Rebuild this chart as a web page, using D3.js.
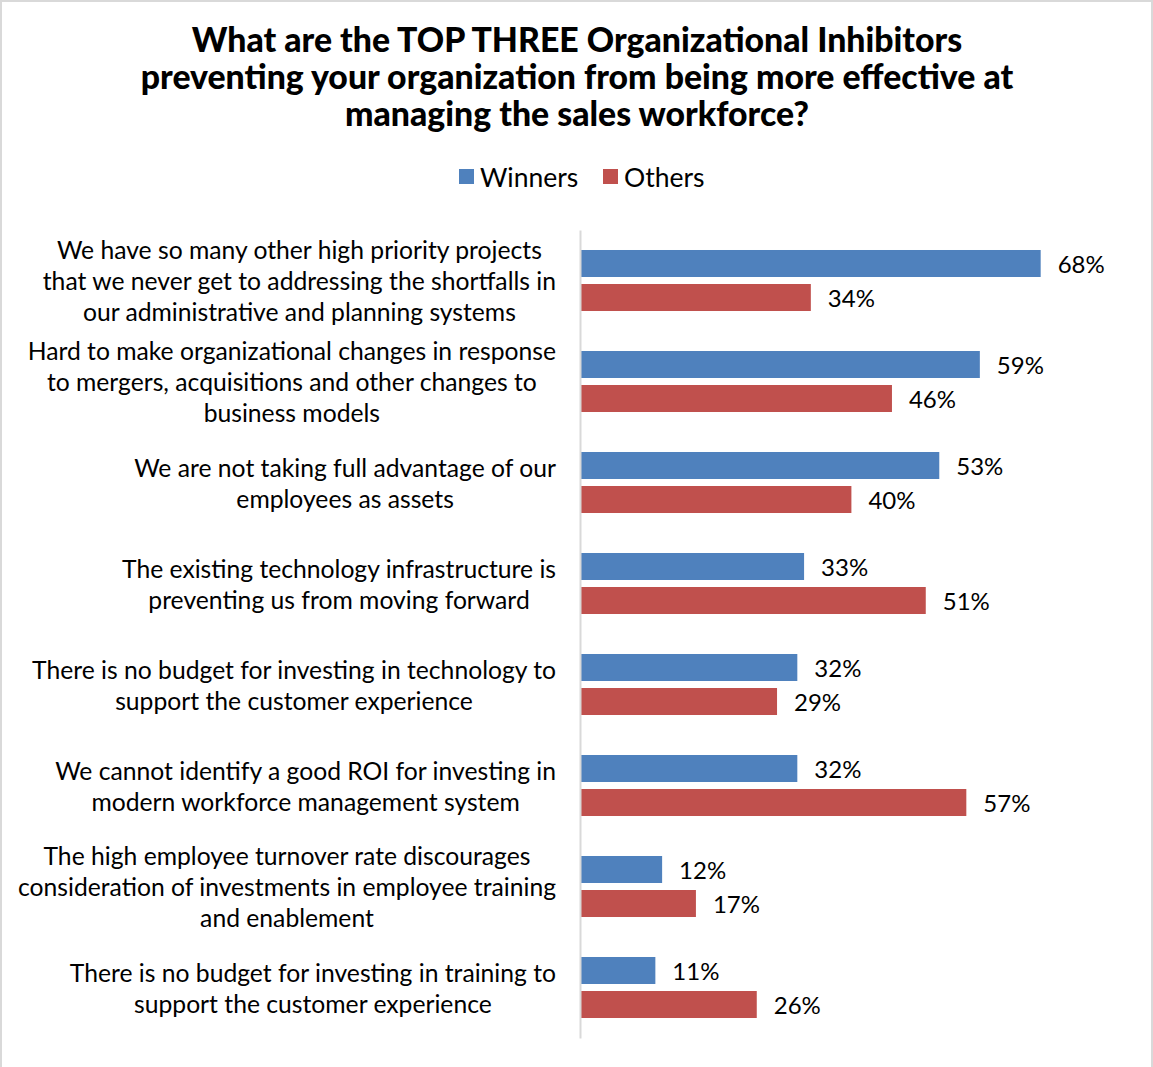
<!DOCTYPE html>
<html>
<head>
<meta charset="utf-8">
<script src="https://cdn.jsdelivr.net/npm/d3@7"></script>
<style>
  html, body { margin: 0; padding: 0; background: #fff; }
  svg { display: block; }
  text { font-family: Lato, "Open Sans", sans-serif; fill: #000; }
</style>
</head>
<body>
<svg id="chart" width="1153" height="1067"></svg>
<script>
// Survey question shown as the chart title
const titleLines = [
  "What are the TOP THREE Organizational Inhibitors",
  "preventing your organization from being more effective at",
  "managing the sales workforce?"
];

// Inhibitor categories (each entry is the wrapped label lines)
const categories = [
  ["We have so many other high priority projects", "that we never get to addressing the shortfalls in", "our administrative and planning systems"],
  ["Hard to make organizational changes in response", "to mergers, acquisitions and other changes to", "business models"],
  ["We are not taking full advantage of our", "employees as assets"],
  ["The existing technology infrastructure is", "preventing us from moving forward"],
  ["There is no budget for investing in technology to", "support the customer experience"],
  ["We cannot identify a good ROI for investing in", "modern workforce management system"],
  ["The high employee turnover rate discourages", "consideration of investments in employee training", "and enablement"],
  ["There is no budget for investing in training to", "support the customer experience"]
];

const seriesNames = ["Winners", "Others"];
const winners = [68, 59, 53, 33, 32, 32, 12, 11];
const others  = [34, 46, 40, 51, 29, 57, 17, 26];
const colors = ["#4F81BD", "#C0504D"];

const svg = d3.select("#chart");
const W = 1153, H = 1067;

// outer frame
svg.append("rect")
  .attr("x", 1).attr("y", 1)
  .attr("width", W - 2).attr("height", H + 10)
  .attr("fill", "none")
  .attr("stroke", "#d9d9d9")
  .attr("stroke-width", 2);

// title
const title = svg.append("text")
  .attr("text-anchor", "middle")
  .style("font-size", "33.8px")
  .style("font-weight", 900);
titleLines.forEach((t, i) => {
  title.append("tspan").attr("x", 577).attr("y", 52 + i * 37).text(t);
});

// legend
const legendItems = [
  { name: seriesNames[0], color: colors[0], x: 459 },
  { name: seriesNames[1], color: colors[1], x: 603 }
];
const legend = svg.append("g");
legendItems.forEach(d => {
  legend.append("rect")
    .attr("x", d.x).attr("y", 169)
    .attr("width", 15).attr("height", 15)
    .attr("fill", d.color);
  legend.append("text")
    .attr("x", d.x + 21).attr("y", 177)
    .attr("dominant-baseline", "central")
    .style("font-size", "26.5px")
    .text(d.name);
});

// scales
const y = d3.scaleBand()
  .domain(d3.range(categories.length))
  .range([230, 1038])
  .paddingInner(0).paddingOuter(0);

const ySub = d3.scaleBand()
  .domain(seriesNames)
  .range([0, y.bandwidth()])
  .paddingInner(0.206)
  .paddingOuter(0.588);

const x = d3.scaleLinear().domain([0, 100]).range([581, 581 + 676]);

const rows = categories.map((c, i) => ({
  idx: i,
  values: [
    { series: seriesNames[0], value: winners[i], color: colors[0] },
    { series: seriesNames[1], value: others[i], color: colors[1] }
  ]
}));

const groups = svg.append("g").selectAll("g")
  .data(rows)
  .join("g")
  .attr("transform", d => `translate(0,${y(d.idx)})`);

groups.selectAll("rect")
  .data(d => d.values)
  .join("rect")
  .attr("x", x(0))
  .attr("y", d => ySub(d.series))
  .attr("width", d => x(d.value) - x(0))
  .attr("height", ySub.bandwidth())
  .attr("fill", d => d.color);

groups.selectAll("text.val")
  .data(d => d.values)
  .join("text")
  .attr("class", "val")
  .attr("x", d => x(d.value) + 17)
  .attr("y", d => ySub(d.series) + ySub.bandwidth() / 2)
  .attr("dominant-baseline", "central")
  .style("font-size", "24px")
  .text(d => d.value + "%");

// vertical category axis line
const axisG = svg.append("g").attr("transform", "translate(580,0)");
axisG.call(d3.axisLeft(y).tickSize(0).tickFormat(""));
axisG.select(".domain").attr("stroke", "#d9d9d9").attr("stroke-width", 2);

// category labels: lines centred within a block that ends at the right edge
const labelRight = 556;
const lineH = 31;
const labelG = svg.append("g").style("font-size", "24.7px");
categories.forEach((lines, i) => {
  const cy = y(i) + y.bandwidth() / 2;
  const t = labelG.append("text").attr("text-anchor", "middle");
  const spans = lines.map((ln, j) =>
    t.append("tspan")
      .attr("y", cy + (j - (lines.length - 1) / 2) * lineH)
      .attr("dominant-baseline", "central")
      .text(ln));
  const maxW = d3.max(spans, s => s.node().getComputedTextLength());
  spans.forEach(s => s.attr("x", labelRight - maxW / 2));
});
</script>
</body>
</html>
